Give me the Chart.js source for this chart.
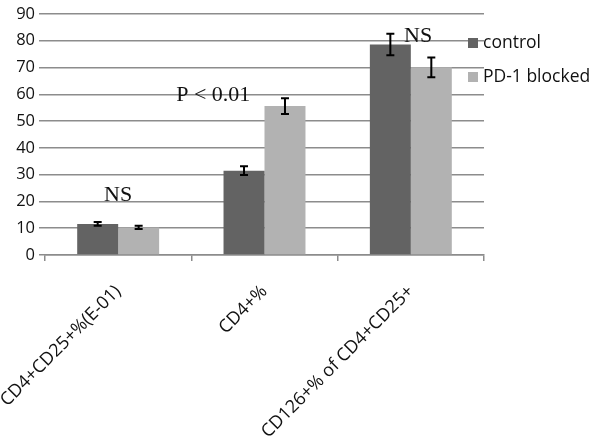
<!DOCTYPE html>
<html>
<head>
<title>CD4 chart</title>
<script src="https://cdn.jsdelivr.net/npm/chart.js@4.4.0/dist/chart.umd.min.js"></script>
<style>
  body { margin: 0; background: #fff; }
  #wrap { width: 600px; height: 437px; }
</style>
</head>
<body>
<div id="wrap"><canvas id="chart1"></canvas></div>
<script>
// data
const categories = ['CD4+CD25+%(E-01)', 'CD4+%', 'CD126+% of CD4+CD25+'];
const controlVals = [11.6, 31.5, 78.6];
const controlErr  = [0.7, 1.6, 4.0];
const blockedVals = [10.3, 55.6, 70.1];
const blockedErr  = [0.6, 2.9, 3.7];
const yTicks = [0, 10, 20, 30, 40, 50, 60, 70, 80, 90];
const notes = [
    { text: 'NS', cat: 0, value: 20.2 },
    { text: 'P < 0.01', cat: 1, value: 57.5 },
    { text: 'NS', cat: 2, value: 79.5 }
];
const noteShift = [0, -0.35, 0.05]; // offset within category, in category widths

// error bars
const errorBars = {
    id: 'errorBars',
    afterDatasetsDraw(chart) {
        const ctx = chart.ctx;
        const y = chart.scales.y;
        const errs = [controlErr, blockedErr];
        ctx.save();
        ctx.strokeStyle = '#000';
        ctx.lineWidth = 2;
        chart.data.datasets.forEach((ds, i) => {
            chart.getDatasetMeta(i).data.forEach((bar, j) => {
                const x = bar.x;
                const top = y.getPixelForValue(ds.data[j] + errs[i][j]);
                const bot = y.getPixelForValue(ds.data[j] - errs[i][j]);
                ctx.beginPath();
                ctx.moveTo(x, top); ctx.lineTo(x, bot);
                ctx.moveTo(x - 4, top); ctx.lineTo(x + 4, top);
                ctx.moveTo(x - 4, bot); ctx.lineTo(x + 4, bot);
                ctx.stroke();
            });
        });
        ctx.restore();
    }
};

// NS / P text and legend on the right
const extras = {
    id: 'extras',
    afterDraw(chart) {
        const ctx = chart.ctx;
        const xs = chart.scales.x, ys = chart.scales.y;
        const catW = xs.getPixelForValue(1) - xs.getPixelForValue(0);
        ctx.save();
        ctx.fillStyle = '#111';
        ctx.font = '22px "Liberation Serif", serif';
        ctx.textAlign = 'center';
        ctx.textBaseline = 'alphabetic';
        notes.forEach((n, k) => {
            const x = xs.getPixelForValue(n.cat) + noteShift[k] * catW;
            ctx.fillText(n.text, x, ys.getPixelForValue(n.value));
        });
        ctx.font = '17.5px "Open Sans", sans-serif';
        ctx.textAlign = 'left';
        ctx.textBaseline = 'middle';
        chart.data.datasets.forEach((ds, i) => {
            const cy = 43 + i * 34;
            ctx.fillStyle = ds.backgroundColor;
            ctx.fillRect(468, cy - 5, 10, 10);
            ctx.fillStyle = '#111';
            ctx.fillText(ds.label, 483, cy);
        });
        ctx.restore();
    }
};

new Chart(document.getElementById('chart1'), {
    type: 'bar',
    data: {
        labels: categories,
        datasets: [
            { label: 'control', data: controlVals, backgroundColor: '#636363' },
            { label: 'PD-1 blocked', data: blockedVals, backgroundColor: '#b2b2b2' }
        ]
    },
    options: {
        responsive: true,
        maintainAspectRatio: false,
        animation: false,
        layout: { padding: { top: 14, right: 116, left: 0, bottom: 0 } },
        plugins: { legend: { display: false }, tooltip: { enabled: false } },
        datasets: { bar: { categoryPercentage: 0.56, barPercentage: 1.0 } },
        scales: {
            x: {
                afterFit(s) { s.height = 182; s.paddingLeft = 0; s.paddingRight = 0; },
                grid: { display: true, offset: true, drawOnChartArea: false, color: '#8c8c8c', tickLength: 6, lineWidth: 1.5 },
                border: { display: true, color: '#8c8c8c', width: 1.5 },
                ticks: { color: '#111', font: { family: '"Open Sans", sans-serif', size: 18 }, minRotation: 45, maxRotation: 45, autoSkip: false, padding: 20 }
            },
            y: {
                min: 0, max: 90,
                afterFit(s) { s.width = 45; },
                afterBuildTicks(s) { s.ticks = yTicks.map(v => ({ value: v })); },
                grid: { color: '#8c8c8c', lineWidth: 1.5, tickLength: 6 },
                border: { display: false },
                ticks: { color: '#111', font: { family: '"Open Sans", sans-serif', size: 16.5 }, padding: 4 }
            }
        }
    },
    plugins: [errorBars, extras]
});
</script>
</body>
</html>
